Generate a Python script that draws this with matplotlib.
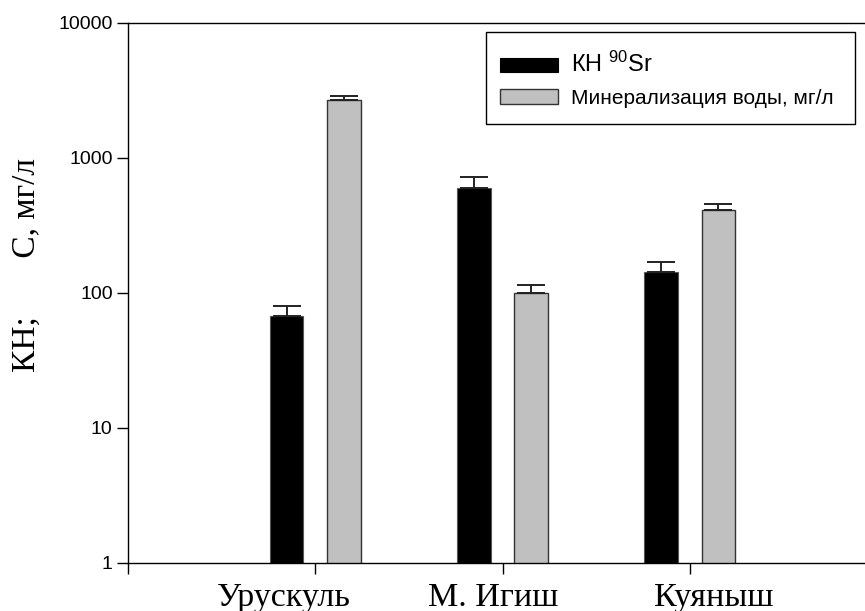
import matplotlib
matplotlib.use("Agg")
import matplotlib.pyplot as plt
from matplotlib.patches import Patch, Rectangle
from matplotlib.transforms import ScaledTranslation

# values (log scale)
sites = ["Урускуль", "М. Игиш", "Куяныш"]
kn_sr90 = [67, 600, 142]
kn_sr90_err = [13, 124, 28]
mineral = [2660, 99, 410]
mineral_err = [190, 15, 45]

series_labels = ["КН $\\mathregular{^{90}}$Sr", "Минерализация воды, мг/л"]
y_ticks = [1, 10, 100, 1000, 10000]

W, H = 865, 611
fig = plt.figure(figsize=(W / 100, H / 100), dpi=100)
ax = fig.add_axes([128 / W, 48.3 / H, 749 / W, 540 / H])

x = [1, 2, 3]
bar_w = 0.18
off = 0.153
err_kw = dict(ecolor="#222222", elinewidth=1.4, capsize=10, capthick=1.4)

ax.bar([v - off for v in x], kn_sr90, bar_w, color="black", edgecolor="#555555",
       linewidth=0.8, yerr=[[0] * 3, kn_sr90_err], error_kw=err_kw, zorder=2)
ax.bar([v + off for v in x], mineral, bar_w, color="#c0c0c0", edgecolor="#333333",
       linewidth=1.0, yerr=[[0] * 3, mineral_err], error_kw=err_kw, zorder=2)

ax.set_yscale("log")
ax.set_ylim(1, 10000)
ax.set_xlim(0, 4)
ax.set_yticks(y_ticks)
ax.set_yticklabels([str(t) for t in y_ticks], family="Liberation Sans", fontsize=14)
ax.yaxis.set_minor_locator(matplotlib.ticker.NullLocator())
ax.tick_params(axis="y", direction="out", length=8, width=1, pad=3)

ax.set_xticks([0, 1, 2, 3, 4])
ax.set_xticklabels([""] + sites + [""], family="Liberation Serif", fontsize=24.5)
ax.tick_params(axis="x", direction="out", length=8, width=1, pad=6)
shifts = [-31, -9, 24]
for lab, dx in zip(ax.get_xticklabels()[1:4], shifts):
    lab.set_transform(lab.get_transform() + ScaledTranslation(dx / 100, 0, fig.dpi_scale_trans))

for side in ["left", "bottom", "top", "right"]:
    ax.spines[side].set_linewidth(1.0)

ax.set_ylabel("КН;       С, мг/л", family="Liberation Serif", fontsize=24)
ax.yaxis.set_label_coords(-0.115, 0.551)

handles = [Patch(facecolor="black", edgecolor="black", linewidth=0.8),
           Patch(facecolor="#c0c0c0", edgecolor="#333333", linewidth=1.0)]
leg = fig.legend(handles, series_labels, loc="upper left",
                 bbox_to_anchor=(500 / W, 1 - 52 / H), frameon=False,
                 prop={"family": "Liberation Sans", "size": 15},
                 handlelength=2.8, handleheight=0.7, handletextpad=0.6,
                 labelspacing=0.55, borderpad=0, borderaxespad=0)
leg.get_texts()[0].set_fontsize(17)
fig.patches.append(Rectangle((486 / W, 1 - 123.7 / H), (855 - 486) / W, (123.7 - 32) / H,
                             transform=fig.transFigure, fill=False,
                             edgecolor="black", linewidth=1.0))

fig.savefig("out.png", dpi=100)
